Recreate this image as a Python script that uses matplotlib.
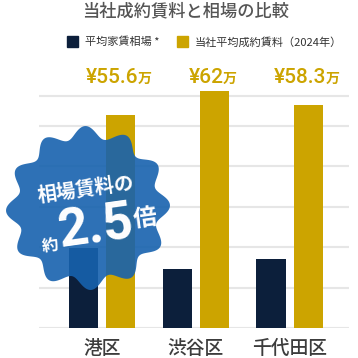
import numpy as np
import matplotlib.pyplot as plt
from matplotlib.patches import Polygon

plt.rcParams['font.family'] = ['Noto Sans CJK JP', 'DejaVu Sans']

# data (万円)
wards = ["港区", "渋谷区", "千代田区"]
market_avg = [21.0, 15.4, 18.0]
our_avg = [55.6, 62.0, 58.3]
our_labels = ["¥55.6", "¥62", "¥58.3"]

title = "当社成約賃料と相場の比較"
legend_names = ["平均家賃相場 *", "当社平均成約賃料（2024年）"]

NAVY = "#0c1f3b"
GOLD = "#cca400"
BLUE = "#1762ae"
GRID = "#e6e6e6"

W = H = 358
fig = plt.figure(figsize=(3.58, 3.58), dpi=100)

# pixel helpers (y measured from the top)
def fx(px):
    return px / W

def fy(py):
    return 1 - py / H

# main axes: baseline at y=328, top at y=80
scale = 237 / 62.0  # px per 万
ax = fig.add_axes([fx(39), fy(328), fx(349) - fx(39), (328 - 80) / H])
ax.set_xlim(-0.67, 2.63)
ax.set_ylim(0, 248 / scale)
ax.axis("off")

for g in np.array([0, 40.5, 81, 121.5, 162, 202.5, 232]) / scale:
    ax.axhline(g, color=GRID, lw=1.5, zorder=0)

x = np.arange(len(wards))
bw = 0.31
off = 0.2
ax.bar(x - off, market_avg, bw, color=NAVY, zorder=2)
ax.bar(x + off, our_avg, bw, color=GOLD, zorder=2)

for xi, lab in zip(x, our_labels):
    t = ax.annotate(lab, xy=(xi + off, fy(83)), xycoords=("data", "figure fraction"),
                    xytext=(-6, 0), textcoords="offset points",
                    ha="center", va="baseline", fontsize=15, color=GOLD,
                    fontweight="medium", family=["Roboto", "DejaVu Sans"])
    ax.annotate("万", xy=(1, 0), xycoords=t, xytext=(-0.5, 0.5), textcoords="offset points",
                ha="left", va="bottom", fontsize=10, color=GOLD, fontweight="bold")

for xi, w in zip(x, wards):
    ax.text(xi, -20 / scale, w, ha="center", va="center", fontsize=13.5,
            color="#3c3c3c", fontweight="medium", clip_on=False)

# title and legend
fig.text(fx(186), fy(11), title, ha="center", va="center", fontsize=12.4,
         color="#555555", fontweight="medium")
fig.patches.append(plt.Rectangle((fx(67), fy(47)), 11 / W, 11 / H,
                                 transform=fig.transFigure, color=NAVY))
fig.text(fx(85), fy(42), legend_names[0], ha="left", va="center", fontsize=8, color="#333333")
fig.patches.append(plt.Rectangle((fx(177), fy(47)), 11 / W, 11 / H,
                                 transform=fig.transFigure, color=GOLD))
fig.text(fx(195), fy(42), legend_names[1], ha="left", va="center", fontsize=8, color="#333333")

# badge overlay in pixel coords
bx = fig.add_axes([0, 0, 1, 1])
bx.set_xlim(0, W)
bx.set_ylim(H, 0)
bx.axis("off")
th = np.linspace(0, 2 * np.pi, 720)
r = 76 + 6 * np.cos(12 * th + 0.4)
pts = np.column_stack([88 + r * np.cos(th), 208 + r * np.sin(th)])
bx.add_patch(Polygon(pts, closed=True, color=BLUE, alpha=0.9, lw=0))

rot = 8
bx.text(86, 190, "相場賃料の", ha="center", va="center", fontsize=14, color="white",
        fontweight="bold", rotation=rot)
bx.text(50, 246, "約", ha="center", va="center", fontsize=12, color="white",
        fontweight="bold", rotation=rot)
bx.text(96, 228, "2.5", ha="center", va="center", fontsize=38, color="white",
        fontweight="bold", rotation=rot, family=["Roboto", "DejaVu Sans"])
bx.text(145, 218, "倍", ha="center", va="center", fontsize=17, color="white",
        fontweight="bold", rotation=rot)

fig.savefig("out.png", dpi=100)
